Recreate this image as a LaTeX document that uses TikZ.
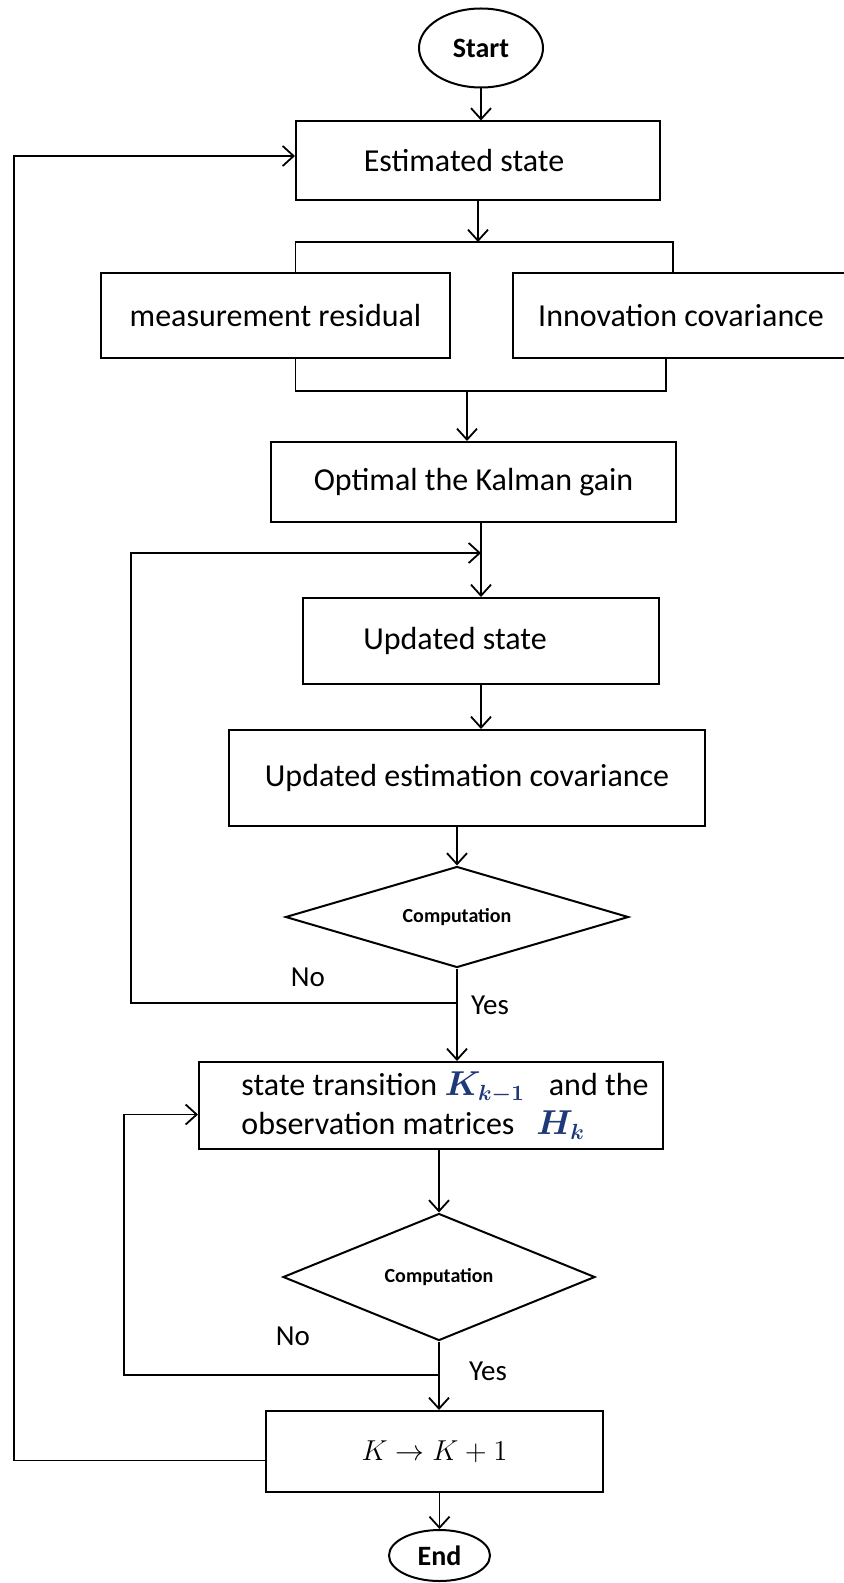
\documentclass[tikz,border=0pt]{standalone}
\usepackage{amsmath}
\usepackage{amssymb}
\usepackage{fontspec}
\setmainfont{Carlito}
\usetikzlibrary{shapes,shapes.geometric,arrows,arrows.meta,positioning,calc}
\definecolor{matblue}{RGB}{31,56,120}
\tikzset{
  procbox/.style={draw, rectangle, line width=1pt, inner sep=2pt, align=center, font=\fontsize{16}{19.5}\selectfont},
  terminal/.style={draw, ellipse, line width=1pt, inner sep=0pt, font=\bfseries\fontsize{14}{16}\selectfont},
  decision/.style={draw, diamond, line width=1pt, inner sep=0pt, font=\bfseries\fontsize{10}{12}\selectfont},
  flow/.style={line width=0.9pt},
  answer/.style={inner sep=0pt, font=\fontsize{14.5}{17}\selectfont}
}

\begin{document}
\begin{tikzpicture}[x=0.5pt, y=-0.5pt, >={Straight Barb[length=5.5pt,width=10pt]}]
\useasboundingbox (0,0) rectangle (843,1583);

\node[terminal, minimum width=62pt, minimum height=39.5pt] (start) at (481,48) {Start};
\node[procbox, minimum width=182pt, minimum height=39.5pt] (est) at (478,161) {Estimated state\hspace*{14pt}};
\node[procbox, minimum width=174.5pt, minimum height=42.5pt] (resid) at (275.5,315.5) {measurement residual};
\node[procbox, minimum width=168pt, minimum height=42.5pt] (innov) at (681,315.5) {Innovation covariance};
\node[procbox, minimum width=202.5pt, minimum height=40pt] (gain) at (473.5,482) {Optimal the Kalman gain};
\node[procbox, minimum width=178pt, minimum height=43pt] (upd) at (481,641) {Updated state\hspace*{26pt}};
\node[procbox, minimum width=238pt, minimum height=48pt] (updcov) at (467,778) {Updated estimation covariance};
\node[decision, aspect=3.4, minimum width=171.5pt, minimum height=50.5pt] (dec1) at (457,917) {Computation};
\node[procbox, align=left, minimum width=232pt, minimum height=43.5pt] (trans) at (431,1105.5)
  {\hspace*{14pt}state transition \textcolor{matblue}{$\boldsymbol{K_{k-1}}$}\hspace{12pt}and the\\
   \hspace*{14pt}observation matrices\hspace{11pt}\textcolor{matblue}{$\boldsymbol{H_k}$}};
\node[decision, aspect=2.46, minimum width=156pt, minimum height=63.5pt] (dec2) at (439,1277) {Computation};
\node[procbox, font=\fontsize{14.5}{17}\selectfont, minimum width=168.5pt, minimum height=40.5pt] (incr) at (434.5,1451.5) {$K \rightarrow K+1$};
\node[terminal, minimum width=50.5pt, minimum height=25.5pt] (end) at (439.5,1555.5) {End};

% branch points
\coordinate (split) at (est.south |- 0,242);
\coordinate (join) at (467,391);
\coordinate (back1) at (upd.north |- 0,553);
\coordinate (noA) at (dec1.south |- 0,1003);
\coordinate (noB) at (dec2.south |- 0,1375);

\draw[flow,->] (start.south) -- (start.south |- est.north);
\draw[flow,->] (est.south) -- (split);
\draw[flow] ([xshift=10pt]resid.north) |- (split) -| ([xshift=-4pt]innov.north);
\draw[flow] ([xshift=10pt]resid.south) |- (join) -| ([xshift=-7.5pt]innov.south);
\draw[flow,->] (join) -- (join |- gain.north);
\draw[flow,->] (gain.south -| upd.north) -- (upd.north);
\draw[flow,->] (upd.south) -- (updcov.north -| upd.south);
\draw[flow,->] (updcov.south -| dec1.north) -- (dec1.north);
\draw[flow,->] (dec1.south) -- (dec1.south |- trans.north);
\draw[flow,->] (noA) -- ++(-326,0) |- (back1);
\draw[flow,->] (trans.south -| dec2.north) -- (dec2.north);
\draw[flow,->] (dec2.south) -- (dec2.south |- incr.north);
\draw[flow,->] (noB) -- ++(-315,0) |- ([yshift=-4.5pt]trans.west);
\draw[flow,->] (incr.south -| end.north) -- (end.north);
\draw[flow,->] ([yshift=-4.5pt]incr.west) -- ++(-251,0) |- ([yshift=2.5pt]est.west);

\node[answer] (noa) at (308,977) {No};
\node[answer] (yesa) at (490,1005) {Yes};
\node[answer] (nob) at (293,1336) {No};
\node[answer] (yesb) at (488,1371) {Yes};
\end{tikzpicture}
\end{document}
